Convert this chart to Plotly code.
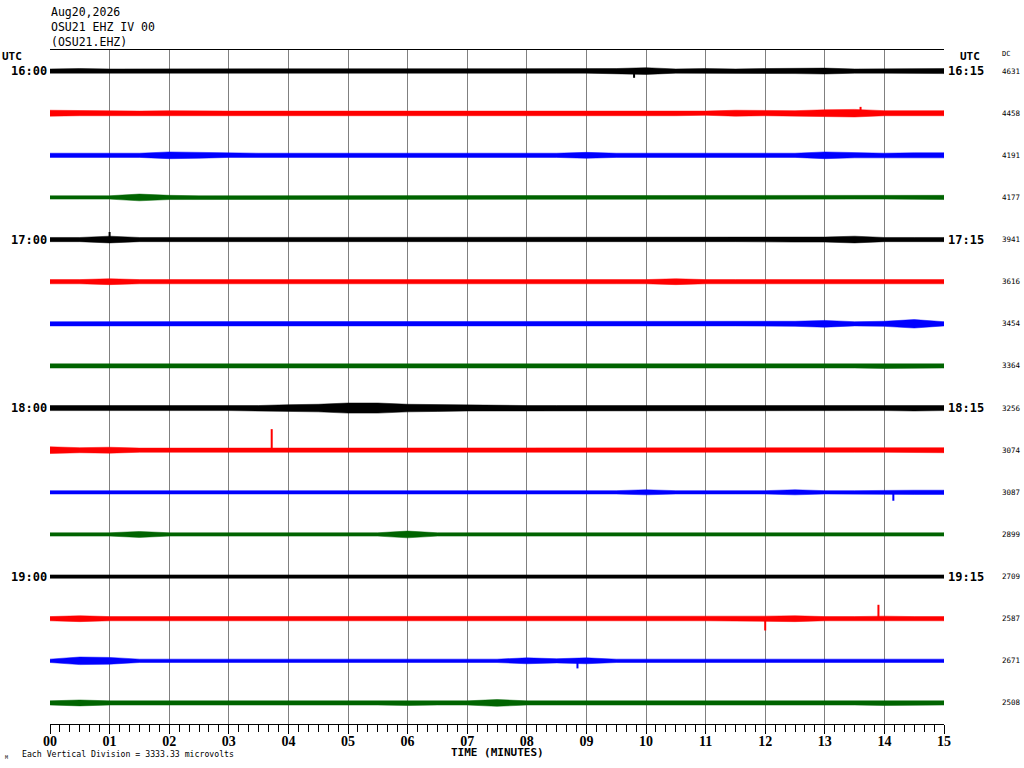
import numpy as np
import plotly.graph_objects as go

# helicorder: 16 lines of 15 minutes each, 16:00 -> 19:59 UTC
# trace envelope read by eye every half minute, in hundredths of a line spacing
minutes = [i * 0.5 for i in range(31)]

amp_pct = [
    [5, 6, 5, 5, 5, 5, 5, 6, 5, 5, 5, 5, 5, 5, 5, 5, 5, 5, 5, 6, 8, 5, 6, 5, 6, 6, 7, 5, 5, 5, 6],
    [7, 6, 5, 5, 6, 5, 5, 5, 5, 5, 5, 5, 5, 5, 6, 5, 6, 5, 6, 5, 6, 6, 5, 7, 6, 6, 8, 9, 6, 6, 6],
    [5, 5, 5, 5, 8, 7, 5, 5, 5, 5, 5, 5, 5, 5, 5, 5, 5, 5, 7, 5, 5, 5, 6, 5, 5, 5, 8, 6, 5, 6, 6],
    [4, 4, 4, 8, 5, 4, 4, 4, 4, 4, 4, 4, 4, 5, 4, 4, 4, 4, 4, 4, 4, 4, 4, 5, 4, 4, 4, 4, 4, 4, 5],
    [5, 5, 8, 5, 5, 5, 5, 5, 5, 5, 5, 5, 5, 5, 5, 5, 5, 5, 5, 5, 5, 5, 5, 5, 5, 6, 6, 8, 5, 5, 5],
    [5, 5, 7, 5, 5, 5, 5, 5, 5, 5, 5, 5, 5, 5, 5, 5, 5, 5, 5, 5, 5, 7, 5, 5, 5, 5, 5, 5, 5, 5, 5],
    [5, 5, 5, 5, 5, 5, 6, 5, 5, 5, 5, 5, 5, 5, 5, 5, 5, 5, 5, 5, 5, 5, 5, 5, 5, 6, 8, 5, 6, 10, 5],
    [5, 5, 5, 5, 5, 5, 5, 5, 5, 5, 5, 5, 5, 5, 5, 6, 5, 6, 6, 5, 5, 5, 5, 5, 5, 5, 5, 5, 6, 6, 5],
    [6, 6, 6, 6, 6, 6, 6, 6, 8, 9, 12, 12, 9, 8, 7, 7, 6, 6, 6, 6, 6, 6, 6, 6, 6, 6, 6, 6, 6, 7, 6],
    [8, 6, 7, 5, 5, 5, 5, 6, 5, 5, 5, 5, 5, 5, 6, 5, 5, 5, 5, 5, 5, 5, 5, 5, 5, 5, 5, 5, 5, 5, 6],
    [4, 4, 4, 4, 4, 4, 4, 4, 4, 4, 4, 4, 4, 4, 4, 4, 4, 4, 4, 4, 6, 4, 4, 4, 4, 6, 4, 4, 5, 5, 5],
    [4, 4, 4, 7, 4, 4, 4, 4, 4, 4, 4, 4, 8, 4, 4, 4, 4, 4, 4, 4, 4, 4, 4, 4, 4, 4, 4, 4, 4, 4, 4],
    [4, 4, 4, 4, 4, 4, 4, 4, 4, 4, 4, 4, 4, 4, 4, 4, 4, 4, 5, 4, 4, 4, 4, 4, 4, 4, 4, 4, 4, 4, 4],
    [5, 7, 5, 5, 5, 6, 5, 5, 5, 5, 5, 5, 5, 5, 5, 5, 5, 5, 5, 5, 5, 5, 5, 5, 6, 7, 5, 5, 6, 5, 5],
    [4, 9, 8, 4, 4, 4, 4, 4, 4, 4, 4, 4, 4, 4, 4, 4, 7, 5, 7, 4, 4, 4, 4, 4, 4, 4, 4, 4, 4, 4, 4],
    [5, 7, 5, 5, 6, 5, 5, 5, 5, 5, 5, 5, 6, 5, 5, 8, 5, 5, 5, 5, 5, 5, 5, 5, 5, 5, 5, 5, 6, 6, 5],
]

# single big excursions: (line, minute, offset in line spacings, + is up)
spike_line = [9, 13, 13, 10, 0, 4, 14, 1]
spike_min = [3.72, 13.9, 12.0, 14.15, 9.8, 1.0, 8.85, 13.6]
spike_amp = [0.50, 0.33, -0.28, -0.20, -0.16, 0.18, -0.18, 0.15]

left_labels = ["16:00", "17:00", "18:00", "19:00"]
right_labels = ["16:15", "17:15", "18:15", "19:15"]
label_lines = [0, 4, 8, 12]
dc_values = ["4631", "4458", "4191", "4177", "3941", "3616", "3454", "3364",
             "3256", "3074", "3087", "2899", "2709", "2587", "2671", "2508"]
tick_labels = [f"{m:02d}" for m in range(16)]

line_colors = ["#000000", "#ff0000", "#0000ff", "#006400"]

fig = go.Figure()

x = np.array(minutes)
for i, row in enumerate(amp_pct):
    a = np.array(row) / 100.0
    col = line_colors[i % 4]
    # reversed y axis, so "up" is center - a
    ys = np.concatenate([i - a, (i + a)[::-1]])
    xs = np.concatenate([x, x[::-1]])
    fig.add_trace(go.Scatter(
        x=xs, y=ys, mode="lines", fill="toself", fillcolor=col,
        line=dict(color=col, width=0.5), hoverinfo="skip", showlegend=False,
    ))

for ln, m, a in zip(spike_line, spike_min, spike_amp):
    col = line_colors[ln % 4]
    fig.add_trace(go.Scatter(
        x=[m, m], y=[ln, ln - a], mode="lines",
        line=dict(color=col, width=2), hoverinfo="skip", showlegend=False,
    ))


# page pixel -> paper helpers (plot area sits at x 50..944, y 50..724 on the page)
def px(v):
    return (v - 50) / 894


def py(v):
    return (724 - v) / 674


mono = "DejaVu Sans Mono"
ann = []
for txt, yy in [("Aug20,2026", 12), ("OSU21 EHZ IV 00", 27), ("(OSU21.EHZ)", 42)]:
    ann.append(dict(text=txt, x=px(49), y=py(yy), xref="paper", yref="paper",
                    xanchor="left", yanchor="middle", showarrow=False,
                    font=dict(family=mono, size=11.5, color="black")))
ann.append(dict(text="<b>UTC</b>", x=px(0), y=py(57), xref="paper", yref="paper",
                xanchor="left", yanchor="middle", showarrow=False,
                font=dict(family=mono, size=11, color="black")))
ann.append(dict(text="<b>UTC</b>", x=px(958), y=py(57), xref="paper", yref="paper",
                xanchor="left", yanchor="middle", showarrow=False,
                font=dict(family=mono, size=11, color="black")))
ann.append(dict(text="DC", x=px(1000), y=py(54), xref="paper", yref="paper",
                xanchor="left", yanchor="middle", showarrow=False,
                font=dict(family=mono, size=7, color="black")))

for ln, lt, rt in zip(label_lines, left_labels, right_labels):
    ann.append(dict(text=f"<b>{lt}</b>", x=0, y=ln, xref="paper", yref="y",
                    xanchor="right", yanchor="middle", xshift=-1, showarrow=False,
                    font=dict(family=mono, size=12, color="black")))
    ann.append(dict(text=f"<b>{rt}</b>", x=1, y=ln, xref="paper", yref="y",
                    xanchor="left", yanchor="middle", xshift=2, showarrow=False,
                    font=dict(family=mono, size=12, color="black")))

for i, v in enumerate(dc_values):
    ann.append(dict(text=v, x=px(1000), y=i, xref="paper", yref="y",
                    xanchor="left", yanchor="middle", showarrow=False,
                    font=dict(family=mono, size=7.5, color="black")))

ann.append(dict(text="<b>TIME (MINUTES)</b>", x=0.5, y=py(752), xref="paper", yref="paper",
                xanchor="center", yanchor="middle", showarrow=False,
                font=dict(family=mono, size=11, color="black")))
ann.append(dict(text="Each Vertical Division = 3333.33 microvolts", x=px(20), y=py(754),
                xref="paper", yref="paper", xanchor="left", yanchor="middle",
                showarrow=False, font=dict(family=mono, size=8.2, color="black")))
ann.append(dict(text="M", x=px(3), y=py(757), xref="paper", yref="paper",
                xanchor="left", yanchor="middle", showarrow=False,
                font=dict(family=mono, size=5, color="black")))

fig.update_layout(
    width=1024, height=768,
    margin=dict(l=50, r=80, t=50, b=44),
    paper_bgcolor="white", plot_bgcolor="white",
    showlegend=False,
    annotations=ann,
    xaxis=dict(
        range=[0, 15], tickmode="array", tickvals=list(range(16)), ticktext=tick_labels,
        ticks="outside", ticklen=9, tickcolor="black", tickwidth=1,
        ticklabelstandoff=-5,
        minor=dict(dtick=1 / 6, ticks="outside", ticklen=7, tickcolor="black", showgrid=False),
        showgrid=True, gridcolor="#808080", gridwidth=1, zeroline=False,
        showline=True, linecolor="black", linewidth=1, mirror=True,
        tickfont=dict(family="Liberation Serif", size=14, color="black", weight="bold"),
    ),
    yaxis=dict(
        range=[15.5, -0.5], showgrid=False, zeroline=False, showline=False,
        showticklabels=False, ticks="",
    ),
)

# drop the default 8px page margin so the figure fills the window exactly
fig.write_html("out.html", config={"displayModeBar": False},
               post_script="document.body.style.margin='0';document.body.style.overflow='hidden';")
